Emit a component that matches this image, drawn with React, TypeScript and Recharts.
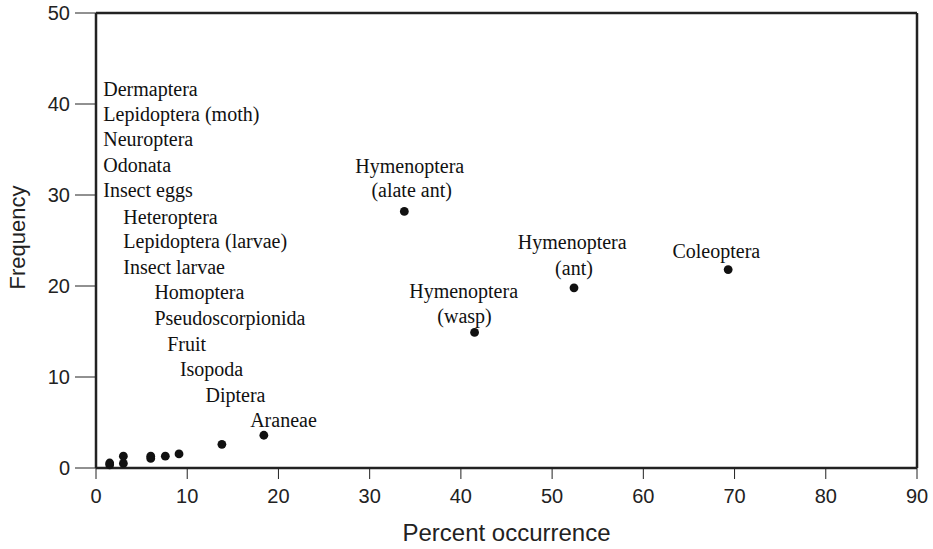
import { ScatterChart, Scatter, XAxis, YAxis, ReferenceLine } from 'recharts';

const X_TICKS = [0, 10, 20, 30, 40, 50, 60, 70, 80, 90];
const Y_TICKS = [0, 10, 20, 30, 40, 50];

// percent occurrence vs frequency
const POINTS = [
  { x: 1.5, y: 0.35 },
  { x: 1.5, y: 0.55 },
  { x: 3.0, y: 0.5 },
  { x: 3.0, y: 1.3 },
  { x: 6.0, y: 1.05 },
  { x: 6.0, y: 1.3 },
  { x: 7.6, y: 1.3 },
  { x: 9.1, y: 1.55 },
  { x: 13.8, y: 2.6 },
  { x: 18.4, y: 3.6 },
  { x: 33.8, y: 28.2 },
  { x: 41.5, y: 14.9 },
  { x: 52.4, y: 19.8 },
  { x: 69.3, y: 21.8 },
];

// taxa listed in a column above the small points (left aligned)
const STACK_LABELS = [
  { x: 0.8, y: 41.7, text: 'Dermaptera' },
  { x: 0.8, y: 38.9, text: 'Lepidoptera (moth)' },
  { x: 0.8, y: 36.1, text: 'Neuroptera' },
  { x: 0.8, y: 33.3, text: 'Odonata' },
  { x: 0.8, y: 30.5, text: 'Insect eggs' },
  { x: 3.0, y: 27.6, text: 'Heteroptera' },
  { x: 3.0, y: 24.9, text: 'Lepidoptera (larvae)' },
  { x: 3.0, y: 22.1, text: 'Insect larvae' },
  { x: 6.4, y: 19.3, text: 'Homoptera' },
  { x: 6.4, y: 16.5, text: 'Pseudoscorpionida' },
  { x: 7.8, y: 13.6, text: 'Fruit' },
  { x: 9.2, y: 10.9, text: 'Isopoda' },
  { x: 12.0, y: 8.0, text: 'Diptera' },
  { x: 16.9, y: 5.3, text: 'Araneae' },
];

// labels centred over the big points
const POINT_LABELS = [
  { x: 34.4, y: 33.15, text: 'Hymenoptera' },
  { x: 34.6, y: 30.6, text: '(alate ant)' },
  { x: 40.3, y: 19.5, text: 'Hymenoptera' },
  { x: 40.4, y: 16.75, text: '(wasp)' },
  { x: 52.2, y: 24.8, text: 'Hymenoptera' },
  { x: 52.4, y: 22.0, text: '(ant)' },
  { x: 68.0, y: 23.8, text: 'Coleoptera' },
];

const SANS = '"Liberation Sans", Arial, sans-serif';
const SERIF = '"Liberation Serif", "Times New Roman", serif';
const INK = '#222';

const Dot = (p: any) => <circle cx={p.cx} cy={p.cy} r={4.4} fill="#111" />;

const makeLabel = (anchor: 'start' | 'middle') => (p: any) => (
  <text
    x={p.cx}
    y={p.cy}
    dy="0.35em"
    textAnchor={anchor}
    fontFamily={SERIF}
    fontSize={20}
    fill="#111"
  >
    {p.payload.text}
  </text>
);

const YTitle = (props: any) => {
  const vb = props.viewBox || { x: 0, y: 13, width: 96, height: 455 };
  const cx = vb.x + 17;
  const cy = vb.y + vb.height / 2 - 3;
  return (
    <text
      x={cx}
      y={cy}
      transform={`rotate(-90 ${cx} ${cy})`}
      textAnchor="middle"
      dominantBaseline="central"
      fontFamily={SANS}
      fontSize={22}
      fill={INK}
    >
      Frequency
    </text>
  );
};

export default function App() {
  return (
    <div style={{ position: 'absolute', left: 0, top: 0, width: 933, height: 549, background: '#fff' }}>
      <ScatterChart width={933} height={549} margin={{ top: 13, right: 16, bottom: 0, left: 0 }}>
        <XAxis
          type="number"
          dataKey="x"
          domain={[0, 90]}
          ticks={X_TICKS}
          height={81}
          tickSize={11}
          tickMargin={10}
          axisLine={{ stroke: INK, strokeWidth: 2.5 }}
          tickLine={{ stroke: INK, strokeWidth: 1 }}
          tick={{ fill: INK, fontSize: 20, fontFamily: SANS }}
          label={{ value: 'Percent occurrence', position: 'insideBottom', offset: 8, fill: INK, fontSize: 24, fontFamily: SANS }}
        />
        <YAxis
          type="number"
          dataKey="y"
          domain={[0, 50]}
          ticks={Y_TICKS}
          width={96}
          tickSize={21}
          tickMargin={5}
          axisLine={{ stroke: INK, strokeWidth: 2.5 }}
          tickLine={{ stroke: INK, strokeWidth: 1 }}
          tick={{ fill: INK, fontSize: 20, fontFamily: SANS }}
          label={<YTitle />}
        />
        <ReferenceLine y={50} stroke={INK} strokeWidth={2.5} />
        <ReferenceLine x={90} stroke={INK} strokeWidth={2.5} />
        <Scatter data={POINTS} shape={Dot} isAnimationActive={false} />
        <Scatter data={STACK_LABELS} shape={makeLabel('start')} isAnimationActive={false} />
        <Scatter data={POINT_LABELS} shape={makeLabel('middle')} isAnimationActive={false} />
      </ScatterChart>
    </div>
  );
}
